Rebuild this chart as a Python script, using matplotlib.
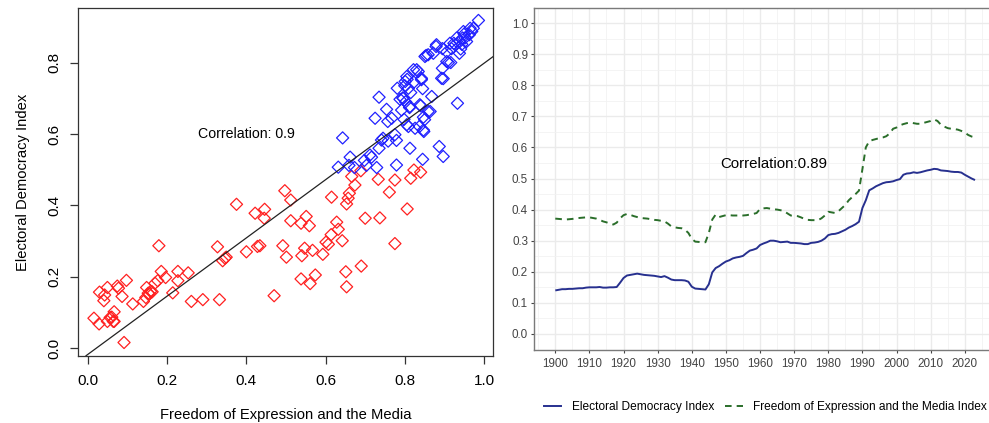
import numpy as np
import matplotlib.pyplot as plt
from matplotlib.lines import Line2D
from matplotlib.ticker import MultipleLocator

plt.rcParams['font.family'] = ['Liberation Sans', 'DejaVu Sans']

# ---- scatter data (countries), split by colour ----
red_x = [0.015, 0.028, 0.029, 0.040, 0.042, 0.049, 0.049, 0.056, 0.066, 0.066,
         0.074, 0.077, 0.086, 0.091, 0.097, 0.113, 0.140, 0.146, 0.148, 0.155,
         0.162, 0.169, 0.176, 0.179, 0.185, 0.196, 0.214, 0.227, 0.227, 0.253,
         0.261, 0.290, 0.327, 0.332, 0.340, 0.346, 0.349, 0.375, 0.400, 0.422,
         0.428, 0.434, 0.446, 0.445, 0.470, 0.492, 0.497, 0.501, 0.512, 0.512,
         0.538, 0.538, 0.540, 0.547, 0.551, 0.559, 0.561, 0.567, 0.574, 0.593,
         0.601, 0.607, 0.614, 0.615, 0.628, 0.632, 0.642, 0.651, 0.653, 0.653,
         0.657, 0.660, 0.666, 0.674, 0.689, 0.690, 0.700, 0.733, 0.737, 0.761,
         0.775, 0.775, 0.806, 0.815, 0.823, 0.840, 0.060, 0.152, 0.158, 0.064]
red_y = [0.084, 0.068, 0.157, 0.133, 0.149, 0.170, 0.075, 0.086, 0.102, 0.075,
         0.174, 0.168, 0.145, 0.016, 0.190, 0.124, 0.131, 0.142, 0.170, 0.152,
         0.158, 0.182, 0.189, 0.287, 0.215, 0.198, 0.155, 0.215, 0.189, 0.211,
         0.131, 0.136, 0.284, 0.136, 0.245, 0.252, 0.255, 0.403, 0.270, 0.378,
         0.285, 0.287, 0.389, 0.364, 0.147, 0.287, 0.441, 0.255, 0.357, 0.415,
         0.350, 0.194, 0.259, 0.280, 0.369, 0.343, 0.181, 0.274, 0.205, 0.263,
         0.297, 0.291, 0.318, 0.423, 0.353, 0.333, 0.301, 0.214, 0.172, 0.404,
         0.420, 0.434, 0.481, 0.457, 0.497, 0.230, 0.364, 0.473, 0.365, 0.437,
         0.471, 0.293, 0.390, 0.476, 0.499, 0.493, 0.087, 0.154, 0.159, 0.075]

blue_x = [0.632, 0.643, 0.662, 0.659, 0.673, 0.698, 0.703, 0.712, 0.716, 0.725,
          0.729, 0.735, 0.735, 0.741, 0.745, 0.754, 0.757, 0.758, 0.767, 0.775,
          0.779, 0.779, 0.781, 0.788, 0.792, 0.795, 0.798, 0.800, 0.802, 0.806,
          0.809, 0.812, 0.813, 0.815, 0.822, 0.823, 0.834, 0.837, 0.840, 0.842,
          0.845, 0.845, 0.847, 0.848, 0.850, 0.854, 0.864, 0.868, 0.872, 0.879,
          0.887, 0.897, 0.897, 0.895, 0.906, 0.910, 0.916, 0.895, 0.906, 0.918,
          0.924, 0.933, 0.931, 0.938, 0.939, 0.944, 0.948, 0.952, 0.956, 0.963,
          0.969, 0.973, 0.965, 0.986, 0.950, 0.946, 0.941, 0.927, 0.914, 0.880,
          0.859, 0.851, 0.893, 0.842, 0.830, 0.805, 0.801, 0.838, 0.859, 0.805,
          0.826, 0.847, 0.813, 0.796, 0.809]
blue_y = [0.507, 0.589, 0.535, 0.512, 0.506, 0.526, 0.512, 0.541, 0.535, 0.644,
          0.506, 0.703, 0.560, 0.583, 0.588, 0.669, 0.635, 0.580, 0.644, 0.598,
          0.582, 0.513, 0.728, 0.697, 0.667, 0.701, 0.641, 0.735, 0.690, 0.753,
          0.621, 0.674, 0.560, 0.716, 0.780, 0.745, 0.775, 0.621, 0.679, 0.752,
          0.727, 0.529, 0.647, 0.607, 0.640, 0.820, 0.663, 0.705, 0.826, 0.845,
          0.565, 0.537, 0.755, 0.784, 0.803, 0.800, 0.800, 0.839, 0.830, 0.839,
          0.854, 0.686, 0.869, 0.826, 0.859, 0.851, 0.887, 0.869, 0.859, 0.878,
          0.887, 0.896, 0.896, 0.918, 0.880, 0.869, 0.838, 0.850, 0.854, 0.850,
          0.822, 0.817, 0.756, 0.756, 0.780, 0.761, 0.747, 0.682, 0.663, 0.626,
          0.616, 0.611, 0.677, 0.700, 0.728]

# fitted line (abline)
fit_intercept = -0.017
fit_slope = 0.815
corr_scatter = 0.9

# ---- yearly averages ----
years = list(range(1900, 2024))
edi = [0.140, 0.142, 0.144, 0.144, 0.145, 0.145, 0.146, 0.147, 0.147, 0.149,
       0.150, 0.150, 0.150, 0.151, 0.149, 0.149, 0.150, 0.150, 0.151, 0.165,
       0.180, 0.188, 0.190, 0.192, 0.194, 0.192, 0.190, 0.189, 0.188, 0.187,
       0.185, 0.183, 0.186, 0.181, 0.175, 0.173, 0.173, 0.173, 0.172, 0.168,
       0.152, 0.146, 0.145, 0.144, 0.143, 0.160, 0.198, 0.212, 0.218, 0.226,
       0.233, 0.237, 0.243, 0.246, 0.248, 0.251, 0.260, 0.268, 0.271, 0.275,
       0.286, 0.291, 0.295, 0.300, 0.300, 0.298, 0.295, 0.296, 0.297, 0.293,
       0.293, 0.292, 0.291, 0.289, 0.289, 0.293, 0.294, 0.296, 0.300, 0.307,
       0.318, 0.321, 0.322, 0.325, 0.330, 0.335, 0.342, 0.347, 0.353, 0.361,
       0.405, 0.430, 0.462, 0.468, 0.475, 0.480, 0.485, 0.488, 0.489, 0.491,
       0.495, 0.498, 0.512, 0.516, 0.517, 0.520, 0.518, 0.520, 0.523, 0.526,
       0.528, 0.531, 0.530, 0.526, 0.525, 0.524, 0.522, 0.521, 0.521, 0.519,
       0.512, 0.506, 0.500, 0.495]
femi = [0.371, 0.370, 0.369, 0.368, 0.369, 0.370, 0.372, 0.373, 0.374, 0.375,
        0.375, 0.373, 0.371, 0.367, 0.362, 0.359, 0.355, 0.352, 0.358, 0.372,
        0.382, 0.386, 0.383, 0.379, 0.376, 0.373, 0.372, 0.371, 0.369, 0.367,
        0.366, 0.364, 0.362, 0.355, 0.346, 0.343, 0.341, 0.340, 0.335, 0.325,
        0.306, 0.297, 0.296, 0.295, 0.295, 0.325, 0.368, 0.384, 0.376, 0.379,
        0.382, 0.382, 0.381, 0.381, 0.381, 0.381, 0.382, 0.384, 0.386, 0.389,
        0.402, 0.404, 0.405, 0.403, 0.401, 0.400, 0.398, 0.395, 0.388, 0.381,
        0.380, 0.379, 0.375, 0.370, 0.367, 0.366, 0.366, 0.366, 0.372, 0.381,
        0.393, 0.391, 0.389, 0.395, 0.405, 0.415, 0.430, 0.440, 0.450, 0.461,
        0.530, 0.600, 0.620, 0.624, 0.627, 0.630, 0.632, 0.636, 0.645, 0.660,
        0.664, 0.671, 0.675, 0.678, 0.680, 0.678, 0.676, 0.676, 0.679, 0.682,
        0.685, 0.690, 0.685, 0.673, 0.667, 0.662, 0.660, 0.659, 0.657, 0.653,
        0.648, 0.640, 0.635, 0.632]
corr_series = 0.89

W, H = 989, 423
fig = plt.figure(figsize=(W / 100, H / 100), dpi=100)

# ---------------- left: scatter (base-R look) ----------------
ax1 = fig.add_axes([78.3 / W, 1 - 355.7 / H, 415 / W, 347.4 / H])
ax1.scatter(red_x, red_y, marker='D', s=38, facecolors='none',
            edgecolors='#ff2020', linewidths=0.9)
ax1.scatter(blue_x, blue_y, marker='D', s=38, facecolors='none',
            edgecolors='#2020ff', linewidths=0.9)
ax1.axline((0, fit_intercept), slope=fit_slope, color='#222222', lw=0.9)
ax1.text(0.4, 0.6, f'Correlation: {corr_scatter}', ha='center', va='center',
         fontsize=10.2)
ax1.set_xlim(-0.0245, 1.0235)
ax1.set_ylim(-0.021, 0.952)
ax1.set_xticks([0.0, 0.2, 0.4, 0.6, 0.8, 1.0])
ax1.set_yticks([0.0, 0.2, 0.4, 0.6, 0.8])
ax1.set_xticklabels(['0.0', '0.2', '0.4', '0.6', '0.8', '1.0'])
ax1.set_yticklabels(['0.0', '0.2', '0.4', '0.6', '0.8'], rotation=90, va='center')
ax1.tick_params(direction='out', length=6, width=0.9, color='#333333',
                labelsize=11, pad=7.5)
ax1.tick_params(axis='y', pad=6)
for s in ax1.spines.values():
    s.set_color('#333333')
    s.set_linewidth(0.9)
ax1.set_xlabel('Freedom of Expression and the Media', fontsize=10.6, labelpad=14)
ax1.set_ylabel('Electoral Democracy Index', fontsize=10.6, labelpad=13)

# ---------------- right: yearly lines (ggplot theme_bw look) ----------------
ax2 = fig.add_axes([534.3 / W, 1 - 349.5 / H, 461.7 / W, 342 / H])
ax2.plot(years, edi, color='#27308f', lw=1.4, solid_capstyle='butt')
ax2.plot(years, femi, color='#2a6e2a', lw=1.4, dashes=(3.4, 2.6))
ax2.text(1964, 0.548, f'Correlation:{corr_series}', ha='center', va='center',
         fontsize=10.8)
ax2.set_xlim(1893.85, 2029.15)
ax2.set_ylim(-0.05, 1.05)
ax2.set_xticks(range(1900, 2021, 10))
ax2.set_yticks(np.arange(0, 1.01, 0.1))
ax2.set_yticklabels([f'{v:.1f}' for v in np.arange(0, 1.01, 0.1)])
ax2.xaxis.set_minor_locator(MultipleLocator(5))
ax2.yaxis.set_minor_locator(MultipleLocator(0.05))
ax2.grid(True, which='major', color='#ebebeb', lw=1.0)
ax2.grid(True, which='minor', color='#f2f2f2', lw=0.6)
ax2.set_axisbelow(True)
ax2.tick_params(which='major', length=2.5, width=0.8, color='#444444',
                labelsize=8.4, labelcolor='#444444', pad=2)
ax2.tick_params(axis='x', which='major', pad=3.5)
ax2.tick_params(which='minor', length=0)
for s in ax2.spines.values():
    s.set_color('#7a7a7a')
    s.set_linewidth(1.0)

handles = [Line2D([], [], color='#27308f', lw=1.4),
           Line2D([], [], color='#2a6e2a', lw=1.4, dashes=(3.4, 2.6))]
fig.legend(handles, ['Electoral Democracy Index',
                     'Freedom of Expression and the Media Index'],
           loc='center left', bbox_to_anchor=(544 / W, 1 - 406.7 / H),
           ncol=2, frameon=False, fontsize=8.6, handlelength=1.45,
           handletextpad=0.9, columnspacing=0.9, borderpad=0, borderaxespad=0)

fig.savefig('out.png', dpi=100)
